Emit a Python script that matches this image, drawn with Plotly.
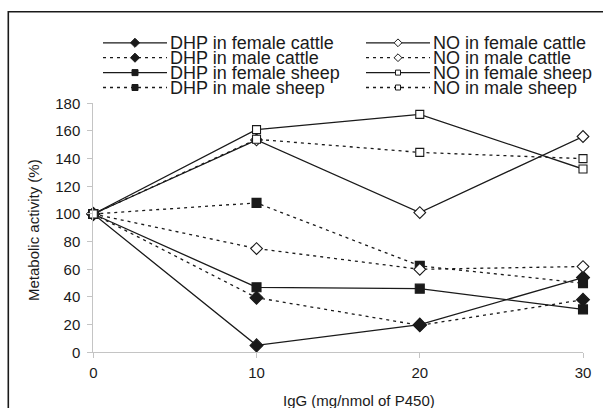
import plotly.graph_objects as go

# ---- data ----
doses = [0, 10, 20, 30]
series_names = [
    "DHP in female cattle", "DHP in male cattle",
    "DHP in female sheep", "DHP in male sheep",
    "NO in female cattle", "NO in male cattle",
    "NO in female sheep", "NO in male sheep",
]
dhp_female_cattle = [100, 5, 20, 54]
dhp_male_cattle = [100, 39.5, 19.5, 38]
dhp_female_sheep = [100, 47, 46, 31]
dhp_male_sheep = [100, 108, 62.5, 50]
no_female_cattle = [100, 153.5, 101, 156]
no_male_cattle = [100, 75, 60, 62]
no_female_sheep = [100, 161, 172, 132.5]
no_male_sheep = [100, 154, 144.5, 140]
series_values = [
    dhp_female_cattle, dhp_male_cattle, dhp_female_sheep, dhp_male_sheep,
    no_female_cattle, no_male_cattle, no_female_sheep, no_male_sheep,
]
x_ticks = [0, 10, 20, 30]
y_ticks = [0, 20, 40, 60, 80, 100, 120, 140, 160, 180]

# ---- styles ----
W, H = 603, 408
BLACK = "#1a1a1a"
FONT = "Liberation Sans, Arial, sans-serif"
styles = [
    dict(dash="solid", symbol="diamond", fill=BLACK, size=10),
    dict(dash="3px,4px", symbol="diamond", fill=BLACK, size=10),
    dict(dash="solid", symbol="square", fill=BLACK, size=9),
    dict(dash="3px,4px", symbol="square", fill=BLACK, size=9),
    dict(dash="solid", symbol="diamond", fill="white", size=9),
    dict(dash="3px,4px", symbol="diamond", fill="white", size=9),
    dict(dash="solid", symbol="square", fill="white", size=8),
    dict(dash="3px,4px", symbol="square", fill="white", size=8),
]

# plot area in pixels
PL, PR, PT, PB = 93.3, 583.0, 103.3, 352.3

fig = go.Figure()
for name, vals, st in zip(series_names, series_values, styles):
    fig.add_trace(go.Scatter(
        x=doses, y=vals, name=name, mode="lines+markers",
        line=dict(color=BLACK, width=1.3, dash=st["dash"]),
        marker=dict(symbol=st["symbol"], size=st["size"], color=st["fill"],
                    line=dict(color=BLACK, width=1.1)),
        cliponaxis=False, showlegend=False,
        xaxis="x", yaxis="y",
    ))

# ---- hand-drawn legend on a pixel-space helper axis ----
col_x = [103, 366]
line_len = 64
row_y0, row_dy = 42.8, 14.9
annotations = []
for i, (name, st) in enumerate(zip(series_names, styles)):
    col, row = divmod(i, 4)
    x0 = col_x[col]
    y = row_y0 + row * row_dy
    fig.add_trace(go.Scatter(
        x=[x0, x0 + line_len], y=[y, y], mode="lines",
        line=dict(color=BLACK, width=1.3, dash=st["dash"]),
        xaxis="x2", yaxis="y2", showlegend=False, hoverinfo="skip",
    ))
    fig.add_trace(go.Scatter(
        x=[x0 + line_len / 2], y=[y], mode="markers",
        marker=dict(symbol=st["symbol"], size=st["size"] - 3, color=st["fill"],
                    line=dict(color=BLACK, width=1)),
        xaxis="x2", yaxis="y2", showlegend=False, hoverinfo="skip",
    ))
    annotations.append(dict(
        x=x0 + line_len + 1, y=y, xref="x2", yref="y2", text=name,
        showarrow=False, xanchor="left", yanchor="middle",
        font=dict(family=FONT, size=18, color=BLACK),
    ))

# axis titles
annotations.append(dict(
    x=358.5, y=400, xref="x2", yref="y2", text="IgG (mg/nmol of P450)",
    showarrow=False, xanchor="center", yanchor="middle",
    font=dict(family=FONT, size=15, color=BLACK),
))
annotations.append(dict(
    x=33, y=230, xref="x2", yref="y2", text="Metabolic activity (%)",
    showarrow=False, xanchor="center", yanchor="middle", textangle=-90,
    font=dict(family=FONT, size=15, color=BLACK),
))

AXIS_GRAY = "#c4c4c4"
fig.update_layout(
    width=W, height=H,
    margin=dict(l=0, r=0, t=0, b=0, pad=0, autoexpand=False),
    paper_bgcolor="white", plot_bgcolor="rgba(0,0,0,0)",
    font=dict(family=FONT, size=15, color=BLACK),
    xaxis=dict(
        domain=[PL / W, PR / W], range=[0, 30],
        tickvals=x_ticks, ticks="outside", ticklen=5, tickcolor=AXIS_GRAY,
        showline=True, linecolor=AXIS_GRAY, linewidth=1,
        showgrid=False, zeroline=False, anchor="y",
        tickfont=dict(family=FONT, size=15, color=BLACK),
        ticklabelstandoff=2, automargin=False,
    ),
    yaxis=dict(
        domain=[(H - PB) / H, (H - PT) / H], range=[0, 180],
        tickvals=y_ticks, ticks="outside", ticklen=5, tickcolor=AXIS_GRAY,
        showline=True, linecolor=AXIS_GRAY, linewidth=1,
        showgrid=False, zeroline=False, anchor="x",
        tickfont=dict(family=FONT, size=15, color=BLACK),
        ticklabelstandoff=4, automargin=False,
    ),
    xaxis2=dict(domain=[0, 1], range=[0, W], visible=False, anchor="y2",
                fixedrange=True, automargin=False),
    yaxis2=dict(domain=[0, 1], range=[H, 0], visible=False, anchor="x2",
                fixedrange=True, automargin=False),
    annotations=annotations,
    shapes=[dict(type="rect", xref="paper", yref="paper",
                 x0=8.3 / W, x1=1.1, y0=-0.1, y1=1 - 11.7 / H,
                 line=dict(color=BLACK, width=1.6), layer="above")],
    showlegend=False,
)

fig.write_html(
    "out.html",
    config={"displayModeBar": False},
    post_script="document.body.style.margin='0';document.body.style.overflow='hidden';",
)
